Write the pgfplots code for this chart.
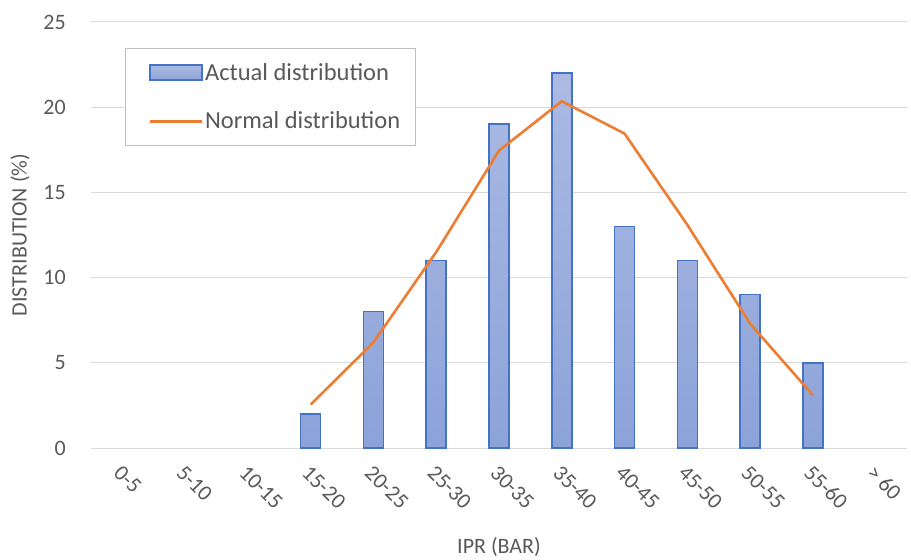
\documentclass[border=0pt]{standalone}
\usepackage{pgfplots}
\pgfplotsset{compat=1.18}
\usepackage{fontspec}
\setmainfont{Carlito}
\definecolor{txt}{HTML}{595959}
\definecolor{gridc}{HTML}{D9D9D9}
\definecolor{barb}{HTML}{4472C4}
\definecolor{bartop}{RGB}{172,186,227}
\definecolor{barbot}{RGB}{140,163,217}
\definecolor{lineor}{HTML}{ED7D31}
\pgfplotsset{
  barleg/.style={legend image code/.code={\path (0bp,0bp); \draw[##1] (10bp,-7.5bp) rectangle (62bp,7.5bp);}},
  lineleg/.style={legend image code/.code={\path (0bp,0bp); \draw[##1] (10bp,0bp) -- (62bp,0bp);}},
}
\begin{document}
\begin{tikzpicture}
\begin{axis}[
  at={(0,0)}, anchor=south west,
  scale only axis, width=816bp, height=426bp,
  xmin=-0.5, xmax=12.5, ymin=0, ymax=25,
  xtick={0,...,12},
  xticklabels={0-5,5-10,10-15,15-20,20-25,25-30,30-35,35-40,40-45,45-50,50-55,55-60,> 60},
  ytick={0,5,...,25},
  ymajorgrids, grid style={draw=gridc, line width=1bp},
  axis line style={draw=none},
  major tick length=0pt,
  /pgf/number format/assume math mode=true,
  tick label style={font=\fontsize{22bp}{26bp}\selectfont, text=txt},
  xticklabel style={xshift=-5bp, yshift=-21bp, rotate=-45, anchor=west, inner sep=0pt},
  yticklabel style={anchor=east, inner sep=0pt, xshift=-25bp},
  xlabel={IPR (BAR)}, ylabel={DISTRIBUTION (\%)},
  label style={font=\fontsize{22bp}{26bp}\selectfont, text=txt},
  xlabel style={at={(axis description cs:0.5,-0.2324)}, anchor=center},
  ylabel style={at={(axis description cs:-0.087,0.5)}, anchor=center},
  legend cell align=left,
  legend style={at={(axis description cs:0.0417,0.939)}, anchor=north west,
    draw=gray!50, line width=1bp, fill=white,
    font=\fontsize{24.5bp}{29bp}\selectfont, text=txt,
    inner xsep=13bp, inner ysep=13bp, row sep=26bp,
    /tikz/every even column/.append style={column sep=5bp}},
]
\addplot[ybar, bar width=20bp, draw=barb, line width=1.5bp,
  top color=bartop, bottom color=barbot, barleg]
  coordinates {(3,2) (4,8) (5,11) (6,19) (7,22) (8,13) (9,11) (10,9) (11,5)};
\addlegendentry{Actual distribution}
\addplot[lineor, line width=2.6bp, mark=none, sharp plot, lineleg]
  coordinates {(3,2.55) (4,6.2) (5,11.5) (6,17.45) (7,20.35) (8,18.45) (9,13.1) (10,7.3) (11,3.1)};
\addlegendentry{Normal distribution}
\end{axis}
\pgfresetboundingbox
\useasboundingbox (-91bp,-112bp) rectangle (820bp,448bp);
\end{tikzpicture}
\end{document}
